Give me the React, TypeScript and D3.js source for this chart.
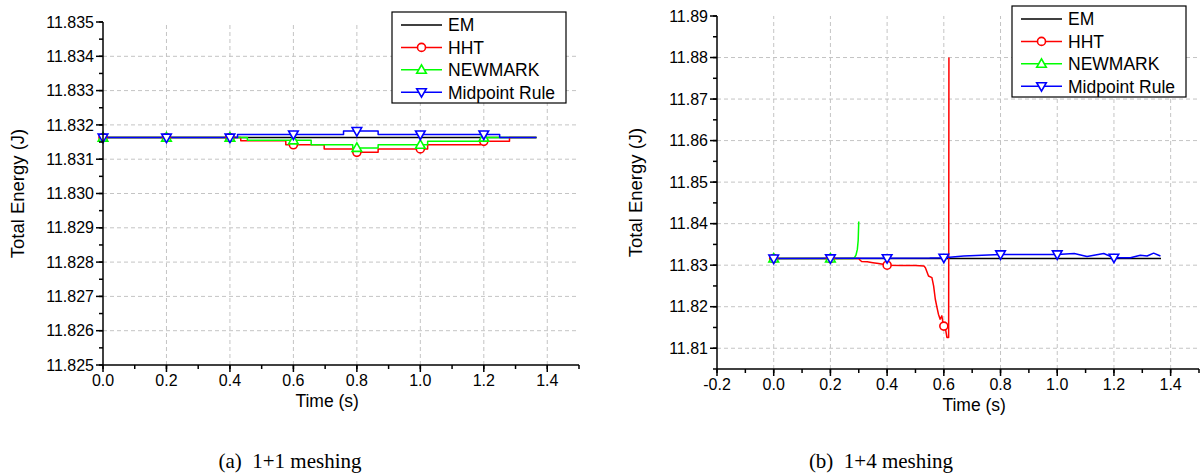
import React from "react";
import * as d3 from "d3";

// ---- data (a) 1+1 meshing : step curves ----
const aEmT = [0, 1.366];
const aEmV = [11.83163, 11.83163];
const aHhtT = [0, 0.434, 0.576, 0.697, 0.787, 0.867, 1.023, 1.19, 1.281, 1.366];
const aHhtV = [11.83163, 11.83154, 11.83142, 11.8313, 11.8312, 11.8313, 11.83142, 11.83152, 11.83163, 11.83163];
const aNewT = [0, 0.455, 0.656, 0.787, 0.867, 1.023, 1.19, 1.366];
const aNewV = [11.83163, 11.83155, 11.83142, 11.83133, 11.83142, 11.83152, 11.83163, 11.83163];
const aMidT = [0, 0.424, 0.758, 0.867, 1.25, 1.366];
const aMidV = [11.83163, 11.83172, 11.83182, 11.83172, 11.83163, 11.83163];

// ---- data (b) 1+4 meshing ----
const bEmT = [0, 1.366];
const bEmV = [11.8316, 11.8316];
const bHhtT = [0, 0.3, 0.305, 0.31, 0.33, 0.35, 0.37, 0.385, 0.4, 0.45, 0.5, 0.53, 0.535, 0.546, 0.558, 0.564, 0.57, 0.576, 0.581, 0.587, 0.593, 0.599, 0.605, 0.611, 0.617, 0.618];
const bHhtV = [11.8316, 11.8316, 11.8312, 11.8309, 11.8308, 11.8306, 11.8304, 11.8302, 11.83, 11.8299, 11.8299, 11.8298, 11.8294, 11.8274, 11.827, 11.825, 11.8218, 11.8198, 11.8182, 11.817, 11.8178, 11.8154, 11.815, 11.8126, 11.8126, 11.88];
const bNewT = [0, 0.28, 0.285, 0.29, 0.295, 0.298, 0.3];
const bNewV = [11.8316, 11.8316, 11.8318, 11.8324, 11.8338, 11.836, 11.8405];
const bMidT = [0, 0.55, 0.6, 0.67, 0.8, 0.9, 1.0, 1.06, 1.105, 1.164, 1.2, 1.258, 1.293, 1.317, 1.34, 1.364];
const bMidV = [11.8316, 11.8317, 11.8318, 11.8322, 11.8326, 11.8326, 11.8326, 11.8328, 11.8321, 11.8328, 11.8318, 11.8318, 11.8324, 11.8322, 11.8329, 11.8322];

const markerTimes = [0, 0.2, 0.4, 0.6, 0.8, 1.0, 1.2];
const seriesNames = ["EM", "HHT", "NEWMARK", "Midpoint Rule"];
const seriesColors = ["#000000", "#ff0000", "#00ff00", "#0000ff"];
const seriesMarkers = ["none", "circle", "up", "down"];

const font = "'Liberation Sans', Arial, sans-serif";
const xFmt = (d: number) => d3.format(".1f")(d).replace("\u2212", "-");

function valueAt(T: number[], V: number[], t: number, step: boolean) {
  if (t < T[0] - 1e-9 || t > T[T.length - 1] + 1e-9) return null;
  let i = d3.bisectRight(T, t + 1e-9) - 1;
  if (i < 0) i = 0;
  if (step || i >= T.length - 1) return V[i];
  const f = (t - T[i]) / (T[i + 1] - T[i]);
  return V[i] + f * (V[i + 1] - V[i]);
}

function Marker({ kind, x, y, color }: { kind: string; x: number; y: number; color: string }) {
  if (kind === "circle")
    return <circle cx={x} cy={y} r={4} fill="white" stroke={color} strokeWidth={1.6} />;
  if (kind === "up")
    return <path d={`M${x},${y - 5}L${x + 4.8},${y + 3.5}L${x - 4.8},${y + 3.5}Z`} fill="white" stroke={color} strokeWidth={1.6} />;
  if (kind === "down")
    return <path d={`M${x},${y + 5}L${x + 4.8},${y - 3.5}L${x - 4.8},${y - 3.5}Z`} fill="white" stroke={color} strokeWidth={1.6} />;
  return null;
}

type PanelProps = {
  x0: number; x1: number; y0: number; y1: number;
  xDomain: [number, number]; yDomain: [number, number];
  yStep: number; yFmt: string;
  series: [number[], number[]][];
  step: boolean;
  markerT: number[][];
  legendX: number; legendY: number;
  caption: string; captionX: number; titleX: number;
};

function Panel(p: PanelProps) {
  const x = d3.scaleLinear().domain(p.xDomain).range([p.x0, p.x1]);
  const y = d3.scaleLinear().domain(p.yDomain).range([p.y0, p.y1]);
  const xMajor = d3.range(Math.round(p.xDomain[0] * 10), Math.round(p.xDomain[1] * 10) + 1, 2).map((d) => d / 10).filter((d) => d < p.xDomain[1] - 1e-9);
  const xMinor = d3.range(Math.round(p.xDomain[0] * 10), Math.round(p.xDomain[1] * 10) + 1).map((d) => d / 10);
  const n = Math.round((p.yDomain[1] - p.yDomain[0]) / p.yStep);
  const yMinor = d3.range(0, 2 * n + 1).map((i) => p.yDomain[0] + (i * p.yStep) / 2);
  const yMajor = yMinor.filter((d) => {
    const k = d / p.yStep;
    return Math.abs(k - Math.round(k)) < 1e-6;
  });
  const fmt = d3.format(p.yFmt);
  const line = d3.line<number>().curve(p.step ? d3.curveStepAfter : d3.curveLinear);
  const grid = "#c4c4c4";
  return (
    <g>
      {/* grid */}
      {xMajor.filter((d) => Math.abs(x(d) - p.x0) > 1).map((d) => (
        <line key={"gx" + d} x1={x(d)} x2={x(d)} y1={p.y0} y2={p.y1} stroke={grid} strokeDasharray="4,3" />
      ))}
      {yMajor.filter((d) => Math.abs(y(d) - p.y0) > 1 && Math.abs(y(d) - p.y1) > 1).map((d) => (
        <line key={"gy" + d} x1={p.x0} x2={p.x1} y1={y(d)} y2={y(d)} stroke={grid} strokeDasharray="4,3" />
      ))}
      {/* series */}
      {p.series.map(([T, V], si) => (
        <path key={"s" + si}
          d={line.x((_, i) => x(T[i])).y((_, i) => y(V[i]))(T) || ""}
          fill="none" stroke={seriesColors[si]} strokeWidth={1.5} strokeLinejoin="round" />
      ))}
      {p.series.map(([T, V], si) =>
        p.markerT[si].map((t) => {
          const v = valueAt(T, V, t, p.step);
          if (v === null) return null;
          return <Marker key={"m" + si + "_" + t} kind={seriesMarkers[si]} x={x(t)} y={y(v)} color={seriesColors[si]} />;
        })
      )}
      {/* axes */}
      <line x1={p.x0} x2={p.x1} y1={p.y0} y2={p.y0} stroke="black" strokeWidth={1.5} />
      <line x1={p.x0} x2={p.x0} y1={p.y0} y2={p.y1} stroke="black" strokeWidth={1.5} />
      {xMinor.map((d) => (
        <line key={"tx" + d} x1={x(d)} x2={x(d)} y1={p.y0} y2={p.y0 + 4} stroke="black" strokeWidth={1.5} />
      ))}
      {xMajor.map((d) => (
        <g key={"lx" + d}>
          <line x1={x(d)} x2={x(d)} y1={p.y0} y2={p.y0 + 7} stroke="black" strokeWidth={1.5} />
          <text x={x(d)} y={p.y0 + 21} textAnchor="middle" fontSize={16} fontFamily={font}>{xFmt(d)}</text>
        </g>
      ))}
      {yMinor.map((d, i) => (
        <line key={"ty" + i} x1={p.x0 - 4} x2={p.x0} y1={y(d)} y2={y(d)} stroke="black" strokeWidth={1.5} />
      ))}
      {yMajor.map((d, i) => (
        <g key={"ly" + i}>
          <line x1={p.x0 - 7} x2={p.x0} y1={y(d)} y2={y(d)} stroke="black" strokeWidth={1.5} />
          <text x={p.x0 - 9} y={y(d)} dy="0.35em" textAnchor="end" fontSize={16} fontFamily={font}>{fmt(d)}</text>
        </g>
      ))}
      <text x={(x(0) + x(1.4)) / 2 + 2} y={p.y0 + 42} textAnchor="middle" fontSize={17.5} fontFamily={font}>Time (s)</text>
      <text transform={`translate(${p.titleX},${(p.y0 + p.y1) / 2}) rotate(-90)`} textAnchor="middle" dy="0.35em" fontSize={18.5} fontFamily={font}>Total Energy (J)</text>
      {/* legend */}
      <g transform={`translate(${p.legendX},${p.legendY})`}>
        <rect x={0} y={0} width={174} height={91} fill="white" stroke="black" strokeWidth={1.2} />
        {seriesNames.map((name, i) => {
          const ly = 13 + i * 22.4;
          return (
            <g key={name}>
              <line x1={9} x2={50} y1={ly} y2={ly} stroke={seriesColors[i]} strokeWidth={1.5} />
              <Marker kind={seriesMarkers[i]} x={29.5} y={ly} color={seriesColors[i]} />
              <text x={56} y={ly} dy="0.36em" fontSize={17.5} fontFamily={font}>{name}</text>
            </g>
          );
        })}
      </g>
      <text x={p.captionX} y={468} textAnchor="middle" fontSize={21} fontFamily="'Liberation Serif', 'Times New Roman', serif" xmlSpace="preserve">{p.caption}</text>
    </g>
  );
}

export default function App() {
  return (
    <svg width={1202} height={473} style={{ position: "absolute", left: 0, top: 0, background: "white" }}>
      <Panel
        x0={103} x1={579} y0={365} y1={22}
        xDomain={[0, 1.5]} yDomain={[11.825, 11.835]}
        yStep={0.001} yFmt=".3f"
        series={[[aEmT, aEmV], [aHhtT, aHhtV], [aNewT, aNewV], [aMidT, aMidV]]}
        step={true}
        markerT={[[], markerTimes, markerTimes, markerTimes]}
        legendX={392} legendY={12}
        caption="(a)  1+1 meshing" captionX={290} titleX={18}
      />
      <Panel
        x0={717} x1={1199} y0={369} y1={16}
        xDomain={[-0.2, 1.5]} yDomain={[11.805, 11.89]}
        yStep={0.01} yFmt=".2f"
        series={[[bEmT, bEmV], [bHhtT, bHhtV], [bNewT, bNewV], [bMidT, bMidV]]}
        step={false}
        markerT={[[], markerTimes, markerTimes, markerTimes]}
        legendX={1012} legendY={6}
        caption="(b)  1+4 meshing" captionX={881} titleX={636}
      />
    </svg>
  );
}
